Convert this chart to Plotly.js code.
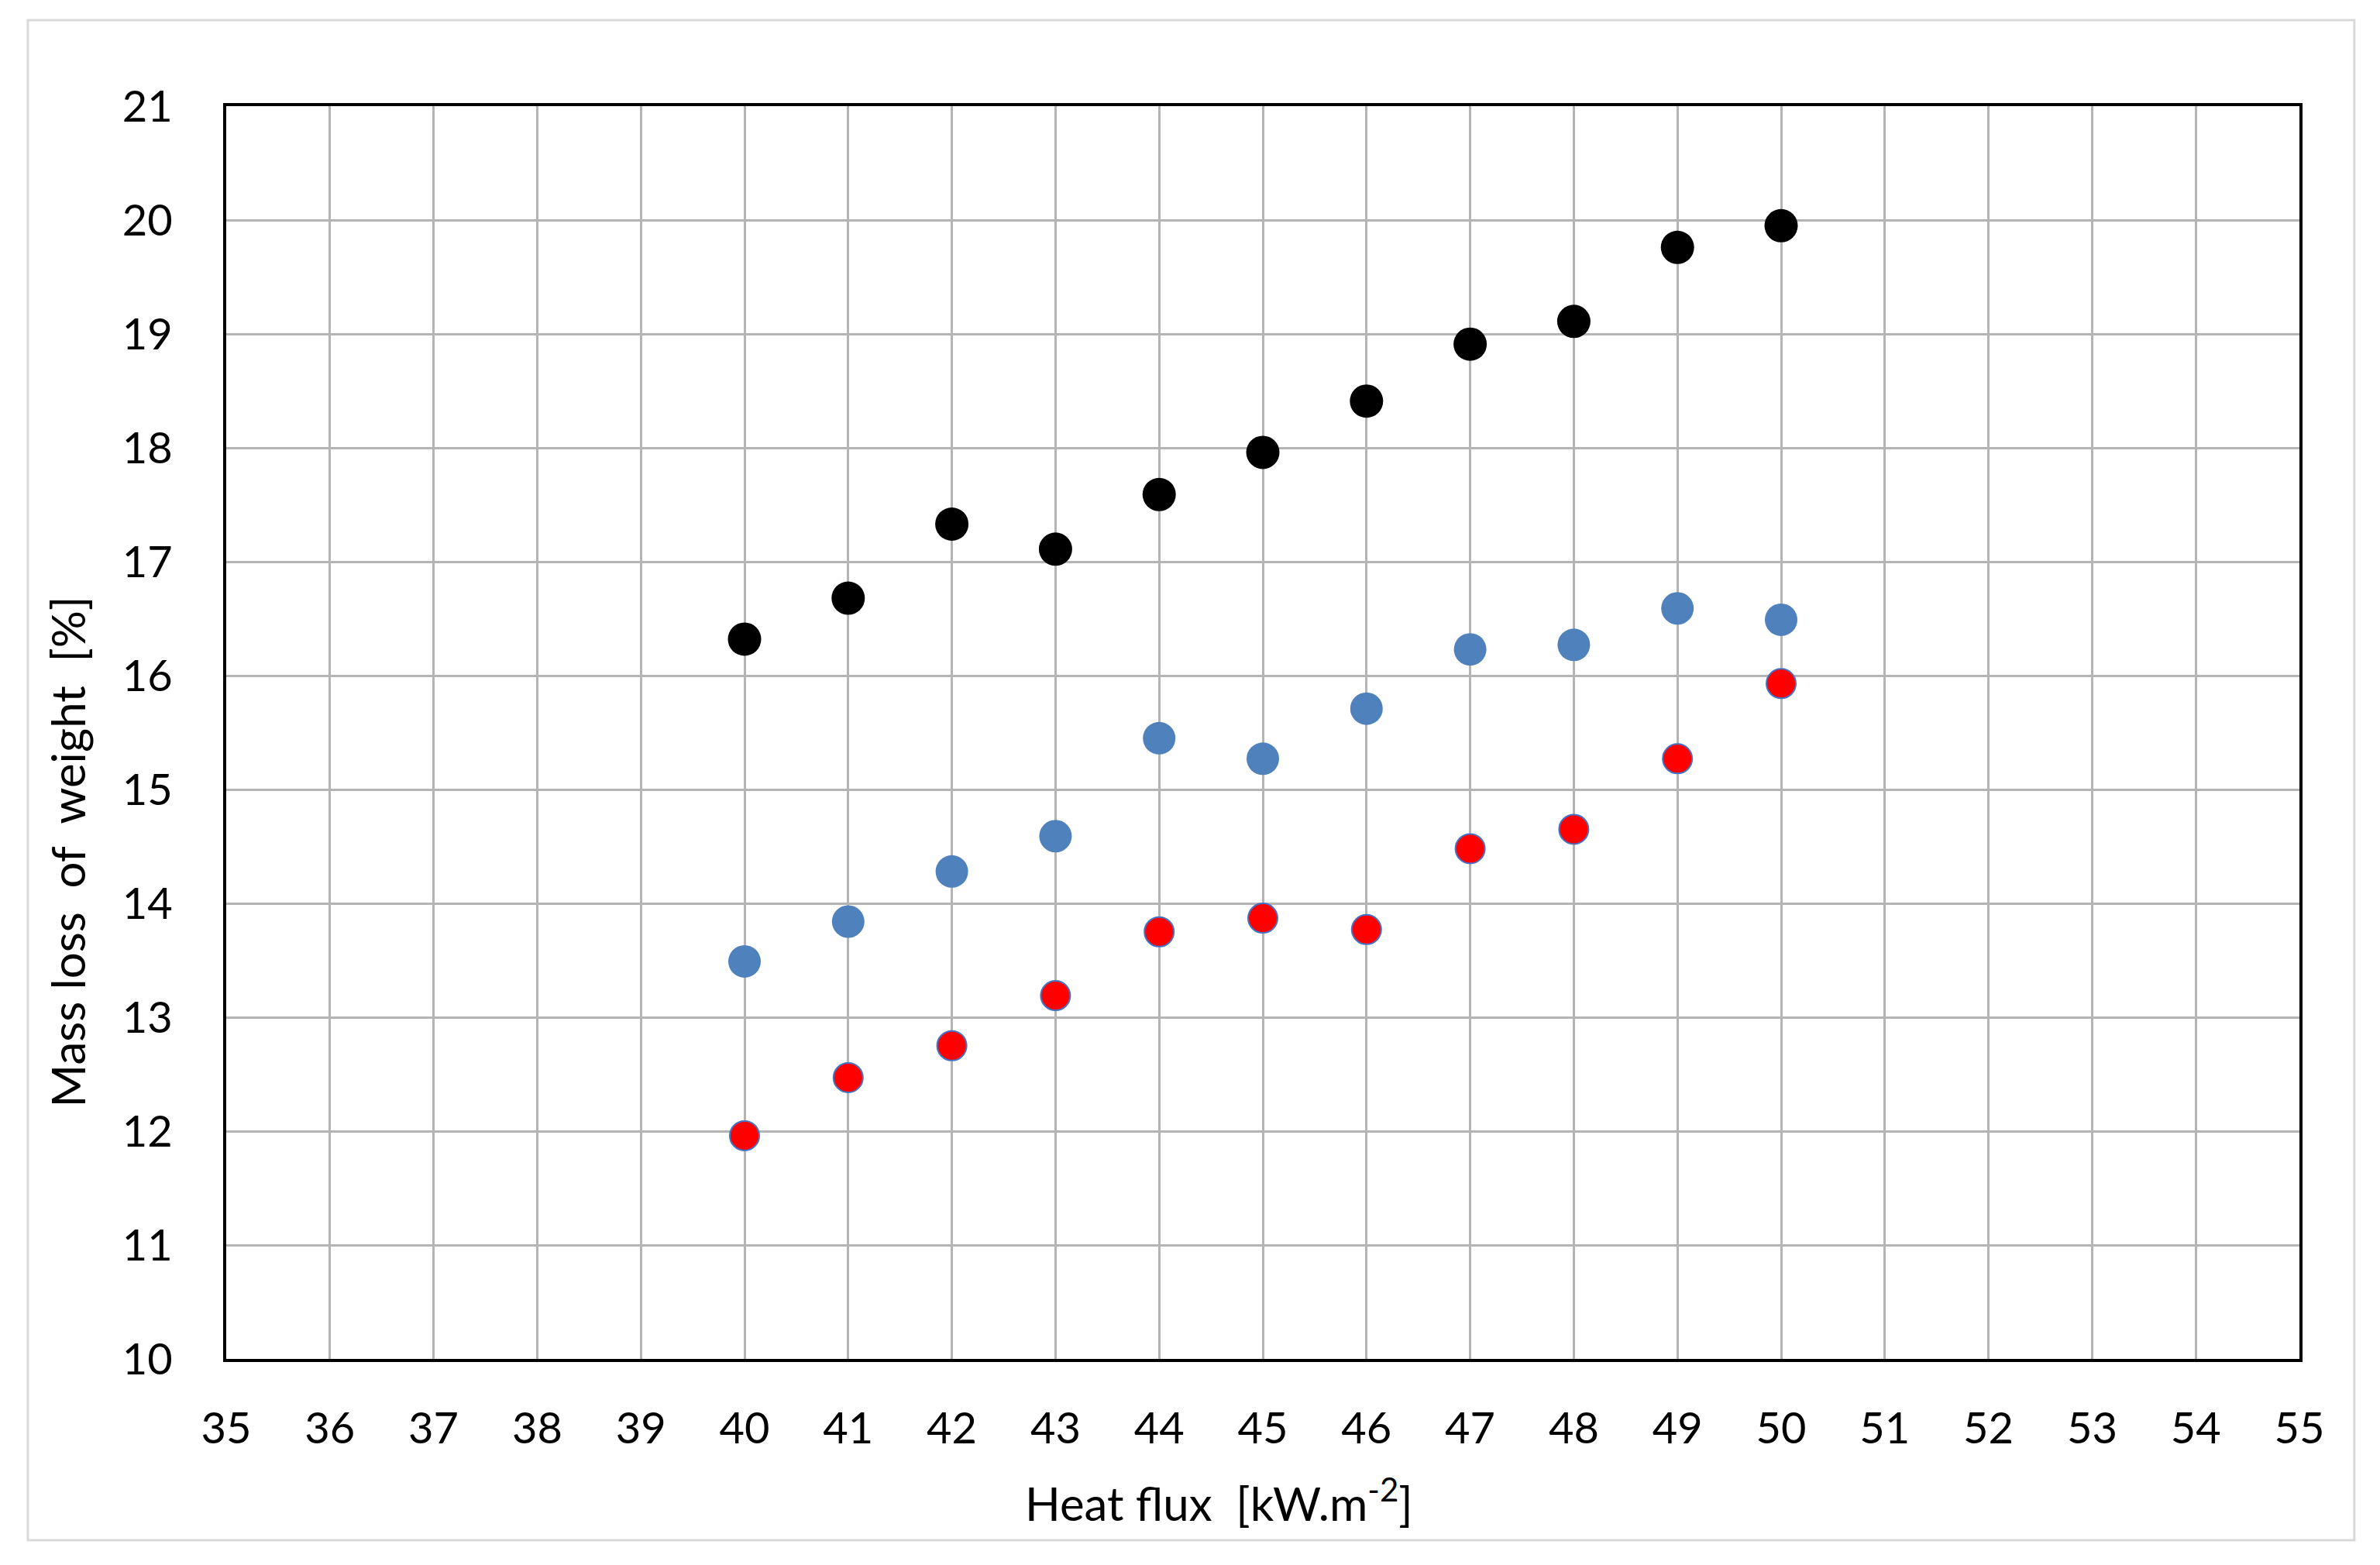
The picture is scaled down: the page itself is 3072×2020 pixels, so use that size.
<!DOCTYPE html>
<html>
<head>
<meta charset="utf-8">
<script src="https://cdn.plot.ly/plotly-3.0.1.min.js"></script>
<style>html,body{margin:0;padding:0;background:#fff;}#chart{width:3072px;height:2020px;}</style>
</head>
<body>
<div id="chart"></div>
<script>
const heatFlux = [40, 41, 42, 43, 44, 45, 46, 47, 48, 49, 50];
const seriesBlack = [16.32, 16.68, 17.33, 17.11, 17.59, 17.96, 18.41, 18.91, 19.11, 19.76, 19.95];
const seriesBlue  = [13.49, 13.84, 14.28, 14.59, 15.45, 15.27, 15.71, 16.23, 16.27, 16.59, 16.49];
const seriesRed   = [11.96, 12.47, 12.75, 13.19, 13.75, 13.87, 13.77, 14.48, 14.65, 15.27, 15.93];
const xTicks = [35,36,37,38,39,40,41,42,43,44,45,46,47,48,49,50,51,52,53,54,55];
const yTicks = [10,11,12,13,14,15,16,17,18,19,20,21];
const xTitle = 'Heat flux  [kW.m<sup>-2</sup>]';
const yTitle = 'Mass loss  of  weight  [%]';

const font = "Lato, 'Open Sans', sans-serif";

const traces = [
  {x: heatFlux, y: seriesBlack, type: 'scatter', mode: 'markers', name: 'black',
   marker: {color: '#000000', size: 43, line: {width: 0}}},
  {x: heatFlux, y: seriesBlue, type: 'scatter', mode: 'markers', name: 'blue',
   marker: {color: '#4f81bd', size: 42, line: {width: 0}}},
  {x: heatFlux, y: seriesRed, type: 'scatter', mode: 'markers', name: 'red',
   marker: {color: '#ff0000', size: 38, line: {color: '#4472c4', width: 2}}}
];

const layout = {
  width: 3072, height: 2020,
  margin: {l: 292, r: 104, t: 137, b: 266},
  paper_bgcolor: '#ffffff', plot_bgcolor: '#ffffff',
  showlegend: false,
  font: {family: font, color: '#000000', size: 56},
  xaxis: {
    range: [35, 55], tickvals: xTicks, ticktext: xTicks.map(String),
    showgrid: true, gridcolor: '#b4b4b4', gridwidth: 3,
    zeroline: false, showline: true, linecolor: '#000000', linewidth: 4, mirror: true,
    ticks: '', ticklabelstandoff: 38,
    tickfont: {family: font, size: 56, color: '#000000'}
  },
  yaxis: {
    range: [10, 21], tickvals: yTicks, ticktext: yTicks.map(String),
    showgrid: true, gridcolor: '#b4b4b4', gridwidth: 3,
    zeroline: false, showline: true, linecolor: '#000000', linewidth: 4, mirror: true,
    ticks: '', ticklabelstandoff: 54,
    tickfont: {family: font, size: 56, color: '#000000'}
  },
  annotations: [
    {
      text: yTitle, textangle: -90,
      xref: 'paper', yref: 'paper', x: -0.0765, y: 0.405,
      xanchor: 'center', yanchor: 'middle', showarrow: false,
      font: {family: font, size: 60, color: '#000000'}
    },
    {
      text: xTitle,
      xref: 'paper', yref: 'paper', x: 0.4787, y: -0.113,
      xanchor: 'center', yanchor: 'middle', showarrow: false,
      font: {family: font, size: 60, color: '#000000'}
    }
  ],
  shapes: [{
    type: 'rect', xref: 'paper', yref: 'paper',
    x0: -0.0957, x1: 1.0265, y0: -0.1447, y1: 1.0686,
    line: {color: '#d9d9d9', width: 3}, fillcolor: 'rgba(0,0,0,0)', layer: 'below'
  }]
};

Plotly.newPlot('chart', traces, layout, {displayModeBar: false, staticPlot: true});
</script>
</body>
</html>
